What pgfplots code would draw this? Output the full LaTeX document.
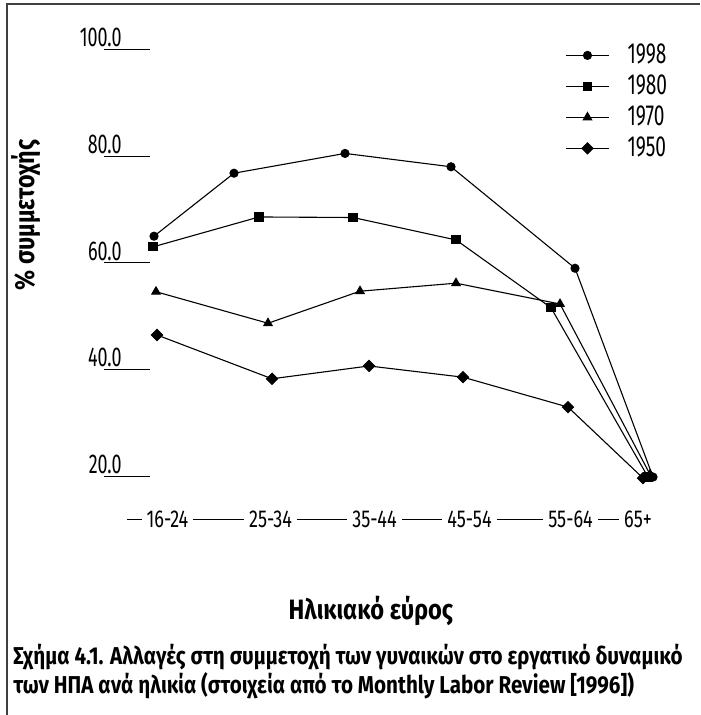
\documentclass[border=0pt]{standalone}
\usepackage{fontspec}
\setmainfont{Fira Sans}[FakeStretch=0.845]
\newfontfamily\numfont{Fira Sans}[FakeStretch=0.66, Numbers=Proportional]
\newfontfamily\xfont{Fira Sans}[FakeStretch=0.74, Numbers=Proportional]
\usepackage{pgfplots}
\pgfplotsset{compat=1.18}

% 1 px of the reference = 0.5pt; x is in px, y in percent
\begin{document}
\begin{tikzpicture}
\begin{axis}[
    set layers,
    scale only axis,
    width=286.5pt, height=259.5pt,
    xmin=127, xmax=700,
    ymin=12.04, ymax=109.23,
    clip=false,
    axis lines*=left,
    y axis line style={draw=none},
    x axis line style={line width=0.5pt, shorten >=39.5pt},
    tick align=center,
    major tick length=23pt,
    ytick={20,40,60,80,100},
    yticklabels={20.0,40.0,60.0,80.0,100.0},
    ytick style={black, line width=0.5pt},
    yticklabel style={anchor=south east, inner sep=0pt, xshift=9pt, yshift=1pt,
        font=\numfont\fontsize{13.6}{14}\selectfont},
    xtick={167.5,270.5,374.5,469.5,570.5,638},
    xticklabels={16-24,25-34,35-44,45-54,55-64,65+},
    xtick style={draw=none},
    xticklabel style={anchor=center, fill=white, inner xsep=2.5pt, inner ysep=1pt,
        yshift=11.5pt, font=\xfont\fontsize{12.2}{13}\selectfont},
    legend style={draw=none, fill=none, at={(axis cs:565,100.43)}, anchor=north west,
        inner sep=0pt, row sep=7.5pt, column sep=9pt,
        nodes={inner sep=0pt, text height=8pt, text depth=0pt},
        font=\numfont\fontsize{14.5}{15}\selectfont},
    legend cell align=left,
    legend image code/.code={\draw[mark repeat=2,mark phase=2,#1]
        plot coordinates {(0pt,0pt) (10.75pt,0pt) (21.5pt,0pt)};},
    every axis plot/.append style={black, line width=0.55pt},
]
\addplot[mark=*, mark size=2pt] coordinates {
    (154,65.0) (234,76.8) (345,80.5) (451,78.0) (575,59.0) (653,19.9)};
\addlegendentry{1998}
\addplot[mark=square*, mark size=2pt] coordinates {
    (153,63.0) (259,68.6) (353,68.5) (456,64.3) (551,51.6) (648,19.9)};
\addlegendentry{1980}
\addplot[mark=triangle*, mark size=2.4pt] coordinates {
    (156,54.6) (268,48.7) (360,54.7) (456,56.2) (560,52.3) (650,20.4)};
\addlegendentry{1970}
\addplot[mark=square*, mark size=1.95pt, mark options={rotate=45}] coordinates {
    (157,46.5) (272,38.3) (369,40.7) (463,38.6) (568,33.0) (643,19.7)};
\addlegendentry{1950}

\node[font=\bfseries\fontsize{14}{15}\selectfont] at (axis cs:371,-5.19) {Ηλικιακό εύρος};
\node[font=\bfseries\fontsize{13.8}{14}\selectfont, rotate=90] at (axis cs:26,69.0) {\% συμμετοχής};
\node[anchor=base west, align=left, inner sep=0pt, font=\bfseries\fontsize{12.2}{13}\selectfont]
    at (axis cs:13,-20.54) {Σχήμα 4.1. Αλλαγές στη συμμετοχή των γυναικών στο εργατικό δυναμικό\\
    των ΗΠΑ ανά ηλικία (στοιχεία από το Monthly Labor Review [1996])};
\draw[black!75, line width=0.8pt] (axis cs:7,-24.66) -- (axis cs:7,108.48) -- (axis cs:700,108.48);
\coordinate (bl) at (axis cs:0,-24.66);
\coordinate (tr) at (axis cs:700,109.23);
\end{axis}
\pgfresetboundingbox
\useasboundingbox (bl) rectangle (tr);
\end{tikzpicture}
\end{document}
